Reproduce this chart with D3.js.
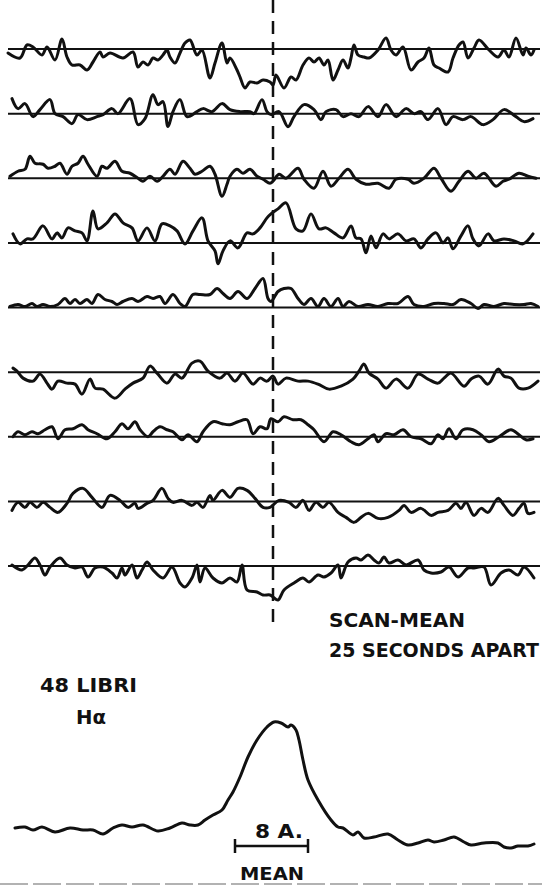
<!DOCTYPE html>
<html>
<head>
<meta charset="utf-8">
<script src="https://cdn.jsdelivr.net/npm/d3@7"></script>
<style>
  body { margin: 0; background: #fff; }
  text { font-family: "DejaVu Sans", sans-serif; font-weight: bold; fill: #111; }
</style>
</head>
<body>
<div id="chart"></div>
<script>
// each scan: [position along spectrum, deflection from the mean]
const scan1 = [[0,-4],[12,-9],[19,4],[25,2],[34,-6],[39,2],[47,-11],[54,10],[59,-8],[64,-16],[72,-16],[79,-21],[85,-13],[92,-3],[95,-8],[102,-4],[115,-9],[125,-3],[130,-18],[135,-13],[140,-16],[145,-9],[150,-11],[155,-6],[159,-1],[162,-8],[167,-14],[172,-4],[177,6],[182,9],[189,-6],[194,-1],[202,-29],[207,-14],[214,6],[219,-14],[222,-9],[229,-21],[232,-28],[237,-39],[242,-33],[249,-34],[255,-31],[262,-33],[265,-36],[268,-26],[276,-39],[283,-28],[288,-31],[295,-16],[301,-9],[306,-13],[311,-9],[316,-16],[320,-11],[325,-31],[330,-21],[335,-11],[340,-19],[343,-9],[346,4],[350,-6],[356,-8],[361,-9],[370,-1],[378,11],[383,-1],[388,-6],[395,2],[403,-21],[410,-13],[416,-9],[421,1],[426,-16],[431,-19],[440,-23],[445,-9],[451,4],[455,7],[460,-9],[466,1],[471,9],[481,-1],[490,-8],[496,-1],[501,-8],[508,11],[515,-6],[518,1],[523,-6],[526,-1]];
const scan2 = [[4,15],[10,5],[17,10],[25,-3],[32,4],[42,14],[47,0],[55,-3],[64,-10],[70,-1],[79,-6],[89,-3],[95,-1],[104,5],[110,0],[122,15],[130,-11],[137,-5],[145,19],[150,9],[155,12],[160,-13],[165,2],[172,14],[179,-3],[189,2],[195,5],[204,2],[214,10],[222,4],[232,2],[242,2],[246,0],[254,14],[259,2],[263,-1],[271,2],[280,-13],[286,-3],[296,9],[306,4],[313,-6],[318,2],[328,4],[335,-3],[343,0],[351,-3],[360,7],[370,-3],[378,9],[388,-3],[398,5],[406,0],[413,2],[420,-6],[430,5],[438,-11],[445,-3],[455,-6],[463,-3],[475,-11],[485,-6],[496,4],[508,-3],[516,-8],[525,-5]];
const scan3 = [[2,2],[10,7],[17,9],[22,22],[27,15],[35,14],[40,10],[47,12],[52,15],[59,4],[64,12],[70,15],[75,22],[80,14],[89,2],[94,12],[99,10],[107,17],[114,7],[122,5],[130,0],[135,-3],[142,2],[149,-3],[155,2],[162,9],[167,4],[175,17],[182,10],[187,4],[194,7],[202,12],[207,4],[214,-18],[219,-6],[222,2],[229,9],[235,5],[242,9],[249,2],[255,-1],[262,-5],[265,-3],[271,4],[278,0],[290,10],[296,-1],[306,-10],[315,7],[323,-8],[331,0],[340,9],[348,-1],[358,-6],[370,-5],[381,-10],[388,-1],[400,-1],[406,-5],[416,0],[426,10],[433,0],[443,-13],[451,-3],[460,7],[468,0],[476,5],[488,-8],[495,-3],[501,-1],[511,5],[520,2],[528,0]];
const scan4 = [[5,9],[12,-1],[19,4],[25,4],[35,17],[44,4],[49,10],[54,5],[60,15],[67,12],[74,10],[79,2],[85,32],[90,14],[99,20],[107,29],[115,20],[124,15],[130,2],[139,15],[147,2],[154,19],[162,17],[169,12],[177,-1],[185,12],[194,25],[200,2],[207,-8],[210,-21],[215,-8],[222,2],[230,-5],[239,10],[245,9],[252,15],[259,25],[263,29],[270,34],[278,40],[288,14],[295,12],[303,29],[311,14],[318,15],[326,10],[335,5],[343,17],[348,5],[353,4],[358,-10],[363,7],[368,-5],[375,9],[381,4],[390,9],[398,2],[406,4],[413,-5],[420,4],[428,10],[435,0],[440,5],[445,-6],[453,7],[460,17],[465,4],[471,-3],[480,9],[486,2],[496,4],[506,2],[515,-1],[525,9]];
const scan5 = [[2,1],[10,3],[17,1],[24,4],[29,1],[35,3],[42,1],[50,3],[57,9],[62,4],[67,8],[72,4],[79,8],[84,4],[90,13],[97,8],[104,6],[109,3],[115,6],[124,9],[130,6],[139,11],[145,9],[152,11],[157,4],[165,13],[172,4],[177,1],[185,13],[192,13],[202,13],[209,19],[215,14],[222,9],[230,16],[239,9],[247,19],[255,29],[260,9],[263,6],[270,16],[276,19],[283,19],[290,9],[296,3],[303,9],[310,1],[316,9],[323,1],[330,9],[335,1],[341,6],[350,1],[360,3],[370,1],[380,4],[390,4],[400,11],[406,3],[416,1],[426,4],[436,4],[445,3],[453,8],[463,4],[470,-1],[476,3],[486,1],[496,4],[506,3],[516,3],[523,4],[530,1]];
const scan6 = [[5,4],[9,1],[15,-6],[25,-9],[32,-2],[39,-11],[44,-17],[50,-9],[59,-11],[67,-12],[74,-22],[82,-7],[87,-16],[95,-17],[107,-26],[117,-17],[125,-11],[135,-6],[142,6],[149,-1],[159,-11],[167,-2],[174,-6],[184,9],[192,11],[200,1],[212,-6],[219,-1],[227,-9],[235,-1],[245,-12],[252,-6],[259,-9],[265,-4],[270,-12],[278,-6],[290,-9],[300,-9],[310,-12],[321,-17],[333,-14],[345,-7],[351,1],[356,8],[361,-1],[370,-7],[378,-16],[388,-7],[400,-16],[410,-2],[420,-7],[430,-11],[436,-6],[443,-1],[456,-14],[463,-7],[471,-4],[480,-12],[490,3],[496,-4],[503,-6],[511,-16],[520,-16],[530,-9]];
const scan7 = [[5,0],[10,5],[17,2],[24,5],[30,3],[37,7],[44,10],[50,-2],[57,7],[65,8],[74,12],[80,7],[89,3],[99,-2],[107,5],[114,13],[120,8],[127,15],[132,7],[140,0],[145,5],[152,10],[159,7],[165,5],[174,-3],[180,2],[189,-5],[195,5],[205,15],[214,13],[222,12],[230,15],[239,17],[245,3],[252,10],[259,8],[263,18],[270,15],[276,20],[285,17],[293,17],[300,12],[306,7],[316,-5],[325,5],[333,2],[343,-5],[351,-8],[360,-2],[366,2],[370,-5],[378,3],[386,2],[395,7],[403,0],[413,-2],[423,-7],[430,2],[435,-2],[441,8],[448,-2],[455,7],[465,7],[473,2],[481,-5],[491,0],[503,7],[511,2],[518,-3],[525,-2]];
const scan8 = [[4,-9],[10,-1],[17,-6],[22,-1],[29,-6],[35,-1],[42,-6],[50,-11],[59,-2],[65,8],[75,13],[84,4],[94,-6],[102,6],[112,1],[120,-6],[127,-2],[130,-7],[139,-2],[145,1],[154,13],[160,3],[165,-1],[174,1],[184,-4],[189,-1],[195,-6],[202,6],[205,1],[214,11],[222,4],[230,13],[239,11],[247,3],[255,-6],[262,-6],[271,1],[281,-1],[288,-6],[295,1],[301,-9],[308,-1],[315,-6],[321,-1],[330,-11],[338,-16],[346,-21],[353,-16],[360,-12],[370,-17],[380,-16],[391,-9],[396,-4],[403,-11],[413,-7],[423,-14],[430,-11],[440,-9],[448,-2],[453,-7],[458,-1],[466,-14],[473,-7],[480,-11],[490,3],[496,-4],[505,-14],[511,-7],[516,-2],[520,-12],[526,-11]];
const scan9 = [[4,1],[14,-4],[20,1],[27,8],[32,1],[37,-9],[42,-1],[52,8],[59,1],[67,-2],[74,-1],[80,-11],[87,-2],[95,-1],[104,-7],[109,-12],[114,-2],[117,-9],[124,1],[129,-12],[134,-4],[139,4],[145,-4],[155,-12],[164,-1],[172,-17],[177,-21],[184,-12],[189,1],[192,-16],[197,-2],[205,-12],[214,-17],[222,-12],[229,-16],[234,1],[239,-24],[249,-26],[255,-29],[262,-29],[265,-31],[270,-34],[276,-24],[286,-17],[295,-12],[301,-16],[310,-9],[316,-11],[323,-7],[330,1],[333,-12],[340,4],[348,8],[353,6],[360,11],[366,6],[371,3],[376,9],[381,3],[390,6],[398,1],[410,6],[416,-4],[423,-7],[433,-6],[441,-1],[450,-11],[460,-2],[466,-2],[476,-1],[483,-19],[493,-7],[501,-4],[510,-9],[516,-1],[526,-12]];
const scans = [scan1, scan2, scan3, scan4, scan5, scan6, scan7, scan8, scan9];

// mean H-alpha profile (emission above continuum)
const meanProfile = [[7,0],[17,1],[25,-2],[34,1],[47,-4],[62,0],[75,-2],[85,-2],[95,-6],[105,0],[114,3],[124,1],[135,3],[150,-3],[162,0],[174,5],[182,3],[190,3],[197,8],[205,13],[214,18],[220,28],[225,36],[232,51],[240,71],[249,88],[259,101],[266,106],[273,105],[280,101],[283,103],[288,98],[291,88],[295,68],[300,48],[310,28],[323,8],[330,1],[335,0],[345,-7],[350,-4],[356,-10],[366,-9],[380,-6],[390,-12],[400,-17],[410,-15],[420,-12],[426,-14],[436,-12],[446,-9],[456,-14],[463,-17],[476,-15],[490,-15],[496,-19],[503,-20],[510,-18],[520,-18],[526,-16]];

const lineCenter = 265;       // position of the mean line centre
const scaleBar = [227, 300];  // 8 A.
const titleLines = ["SCAN-MEAN", "25 SECONDS APART"];
const starLines = ["48 LIBRI", "H\u03b1"];

const w = 542, h = 886;
const svg = d3.select("#chart").append("svg")
    .attr("width", w)
    .attr("height", h);

const x = d3.scaleLinear().domain([0, 530]).range([8, 538]);
const row = d3.scaleLinear().domain([0, 8]).range([49, 566]);
const y = d3.scaleLinear().domain([-40, 40]).range([40, -40]);

const line = d3.line()
    .x(d => x(d[0]))
    .y(d => y(d[1]))
    .curve(d3.curveCatmullRom.alpha(0.5));

scans.forEach((s, i) => {
    const g = svg.append("g").attr("transform", "translate(0," + row(i) + ")");
    g.append("line")
        .attr("x1", x(0)).attr("x2", x(532))
        .attr("y1", y(0)).attr("y2", y(0))
        .attr("stroke", "#111")
        .attr("stroke-width", 2);
    g.append("path")
        .datum(s)
        .attr("d", line)
        .attr("fill", "none")
        .attr("stroke", "#111")
        .attr("stroke-width", 3)
        .attr("stroke-linejoin", "round")
        .attr("stroke-linecap", "round");
});

// dashed line through the line centre
svg.append("line")
    .attr("x1", x(lineCenter)).attr("x2", x(lineCenter))
    .attr("y1", 0).attr("y2", 623)
    .attr("stroke", "#111")
    .attr("stroke-width", 2.5)
    .attr("stroke-dasharray", "13,8");

// mean profile
const mg = svg.append("g").attr("transform", "translate(0,828)");
mg.append("path")
    .datum(meanProfile)
    .attr("d", line)
    .attr("fill", "none")
    .attr("stroke", "#111")
    .attr("stroke-width", 3)
    .attr("stroke-linejoin", "round")
    .attr("stroke-linecap", "round");

// scale bar
const sb = svg.append("g").attr("stroke", "#111").attr("stroke-width", 2.5);
sb.append("line").attr("x1", x(scaleBar[0])).attr("x2", x(scaleBar[1])).attr("y1", 846).attr("y2", 846);
scaleBar.forEach(v => {
    sb.append("line").attr("x1", x(v)).attr("x2", x(v)).attr("y1", 839).attr("y2", 853);
});

function label(t, px, py, len, size) {
    svg.append("text")
        .attr("x", px).attr("y", py)
        .attr("font-size", size)
        .attr("textLength", len)
        .attr("lengthAdjust", "spacingAndGlyphs")
        .text(t);
}
label(titleLines[0], 329, 627, 136, 19);
label(titleLines[1], 329, 657, 210, 19);
label(starLines[0], 40, 692, 97, 20);
label(starLines[1], 76, 724, 30, 20);
label("8 A.", 255, 838, 48, 19);
label("MEAN", 240, 880, 64, 18);

// edge of the plate
svg.append("line")
    .attr("x1", 0).attr("x2", w)
    .attr("y1", 884).attr("y2", 884)
    .attr("stroke", "#999")
    .attr("stroke-width", 1.5)
    .attr("stroke-dasharray", "28,5");
</script>
</body>
</html>
